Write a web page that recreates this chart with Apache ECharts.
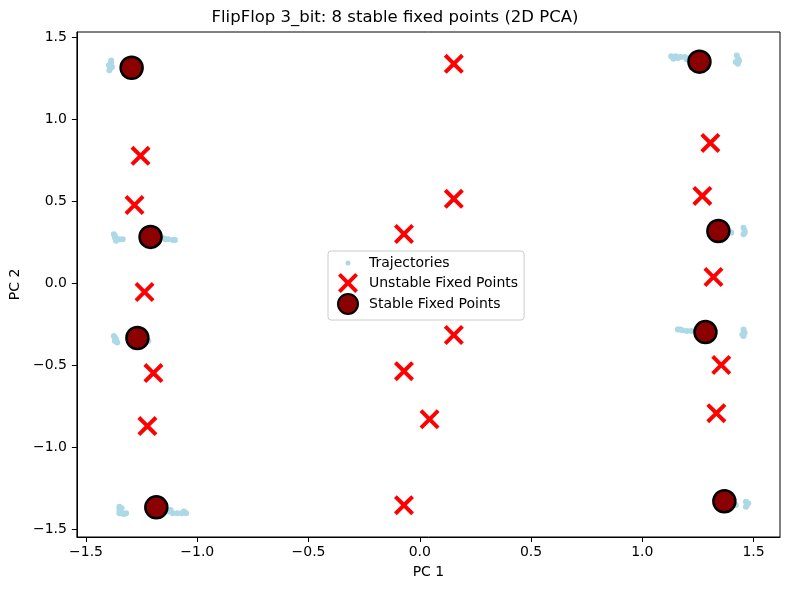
<!DOCTYPE html>
<html>
<head>
<meta charset="utf-8">
<script src="https://cdn.jsdelivr.net/npm/echarts@6/dist/echarts.min.js"></script>
<style>
  html, body { margin: 0; padding: 0; background: #fff; }
  #main { width: 790px; height: 590px; }
</style>
</head>
<body>
<div id="main"></div>
<script>
// trajectory samples around the attractors (PC1, PC2)
var trajectories = [
  [-1.397, 1.33], [-1.392, 1.31], [-1.388, 1.345], [-1.383, 1.32], [-1.395, 1.30], [-1.387, 1.36],
  [-1.33, 1.33], [-1.32, 1.32],
  [1.13, 1.385], [1.15, 1.385], [1.17, 1.38], [1.19, 1.38], [1.21, 1.375], [1.14, 1.37], [1.16, 1.375], [1.20, 1.365],
  [1.425, 1.39], [1.43, 1.37], [1.42, 1.35], [1.435, 1.36], [1.43, 1.34], [1.29, 1.35],
  [-1.375, 0.30], [-1.37, 0.28], [-1.365, 0.26], [-1.35, 0.27], [-1.335, 0.27], [-1.37, 0.29],
  [-1.24, 0.29], [-1.17, 0.28], [-1.15, 0.275], [-1.13, 0.27], [-1.11, 0.265], [-1.10, 0.265], [-1.16, 0.28], [-1.14, 0.27],
  [1.455, 0.34], [1.46, 0.32], [1.455, 0.30], [1.46, 0.31], [1.39, 0.32], [1.40, 0.31],
  [-1.375, -0.32], [-1.37, -0.35], [-1.365, -0.34], [-1.36, -0.36], [-1.37, -0.33],
  [-1.31, -0.32], [-1.30, -0.34], [-1.22, -0.35],
  [1.16, -0.28], [1.18, -0.285], [1.20, -0.29], [1.22, -0.29], [1.24, -0.29], [1.17, -0.28],
  [1.455, -0.28], [1.46, -0.30], [1.455, -0.32], [1.45, -0.31], [1.32, -0.32],
  [-1.35, -1.36], [-1.35, -1.38], [-1.345, -1.40], [-1.33, -1.405], [-1.34, -1.37], [-1.32, -1.40], [-1.35, -1.40],
  [-1.13, -1.39], [-1.11, -1.40], [-1.09, -1.40], [-1.07, -1.40], [-1.05, -1.40], [-1.12, -1.38], [-1.06, -1.39],
  [1.41, -1.34], [1.42, -1.35], [1.466, -1.33], [1.47, -1.35], [1.466, -1.36], [1.476, -1.34]
];

var unstablePoints = [
  [0.153, 1.339], [-1.255, 0.778], [1.306, 0.857], [-1.282, 0.479], [0.153, 0.516],
  [1.270, 0.534], [-0.071, 0.302], [1.320, 0.040], [-1.237, -0.052], [0.153, -0.314],
  [-1.197, -0.546], [-0.071, -0.534], [1.355, -0.497], [0.044, -0.827], [-1.224, -0.869],
  [1.333, -0.790], [-0.071, -1.351]
];

var stablePoints = [
  [-1.295, 1.315], [1.257, 1.352], [-1.210, 0.284], [1.342, 0.320],
  [-1.269, -0.332], [1.284, -0.296], [-1.184, -1.364], [1.369, -1.327]
];

var tickValues = [-1.5, -1.0, -0.5, 0.0, 0.5, 1.0, 1.5];

var xMark = 'path://M0,2.8L2.8,0L10,7.2L17.2,0L20,2.8L12.8,10L20,17.2L17.2,20L10,12.8L2.8,20L0,17.2L7.2,10Z';
var dotMark = 'path://M0,0M20,20M10,10m-2.5,0a2.5,2.5 0 1,0 5,0a2.5,2.5 0 1,0 -5,0Z';

function fmt(v) {
    return (v < 0 ? '\u2212' : '') + Math.abs(v).toFixed(1);
}

var font = 'DejaVu Sans';

function axisCommon() {
    return {
        type: 'value',
        splitLine: { show: false },
        axisLine: { show: true, onZero: false, lineStyle: { color: '#000', width: 1 } },
        axisTick: { show: true, inside: false, length: 5, lineStyle: { color: '#000' }, customValues: tickValues },
        axisLabel: { color: '#000', fontFamily: font, fontSize: 14, formatter: fmt, customValues: tickValues },
        nameLocation: 'middle',
        nameTextStyle: { color: '#000', fontFamily: font, fontSize: 14 }
    };
}

var xAxis = axisCommon();
xAxis.min = -1.541;
xAxis.max = 1.619;
xAxis.name = 'PC 1';
xAxis.nameGap = 28;
xAxis.axisLabel.margin = 8;

var yAxis = axisCommon();
yAxis.min = -1.545;
yAxis.max = 1.533;
yAxis.name = 'PC 2';
yAxis.nameGap = 50;
yAxis.axisLabel.margin = 10;

var myChart = echarts.init(document.getElementById('main'), null, { renderer: 'canvas' });

var option = {
    backgroundColor: '#fff',
    animation: false,
    title: {
        text: 'FlipFlop 3_bit: 8 stable fixed points (2D PCA)',
        left: 'center',
        top: 9,
        padding: 0,
        textStyle: { color: '#000', fontFamily: font, fontSize: 16.5, fontWeight: 'normal' }
    },
    grid: {
        left: 73, right: 10, top: 32, bottom: 53,
        show: true, borderColor: '#000', borderWidth: 1, backgroundColor: 'transparent'
    },
    legend: {
        left: 328,
        top: 251,
        orient: 'vertical',
        itemWidth: 20,
        itemHeight: 20,
        itemGap: 0,
        padding: [2, 6, 5, 9],
        borderColor: '#cccccc',
        borderWidth: 1,
        borderRadius: 3,
        backgroundColor: 'rgba(255,255,255,0.8)',
        textStyle: { color: '#000', fontFamily: font, fontSize: 14, padding: [0, 0, 0, 6] },
        data: [
            { name: 'Trajectories', icon: dotMark, itemStyle: { color: '#add8e6', borderWidth: 0 } },
            { name: 'Unstable Fixed Points', icon: xMark, itemStyle: { color: '#ff0000', borderWidth: 0 } },
            { name: 'Stable Fixed Points', icon: 'circle', itemStyle: { color: '#8b0000', borderColor: '#000', borderWidth: 2 } }
        ]
    },
    xAxis: xAxis,
    yAxis: yAxis,
    series: [{
        name: 'Trajectories',
        type: 'scatter',
        data: trajectories,
        symbol: 'circle',
        symbolSize: 6,
        itemStyle: { color: '#add8e6', opacity: 1 },
        z: 1
    }, {
        name: 'Unstable Fixed Points',
        type: 'scatter',
        data: unstablePoints,
        symbol: xMark,
        symbolSize: 20,
        itemStyle: { color: '#ff0000', opacity: 1 },
        z: 2
    }, {
        name: 'Stable Fixed Points',
        type: 'scatter',
        data: stablePoints,
        symbol: 'circle',
        symbolSize: 22,
        itemStyle: { color: '#8b0000', borderColor: '#000', borderWidth: 2.5, opacity: 1 },
        z: 3
    }]
};

myChart.setOption(option);
</script>
</body>
</html>
